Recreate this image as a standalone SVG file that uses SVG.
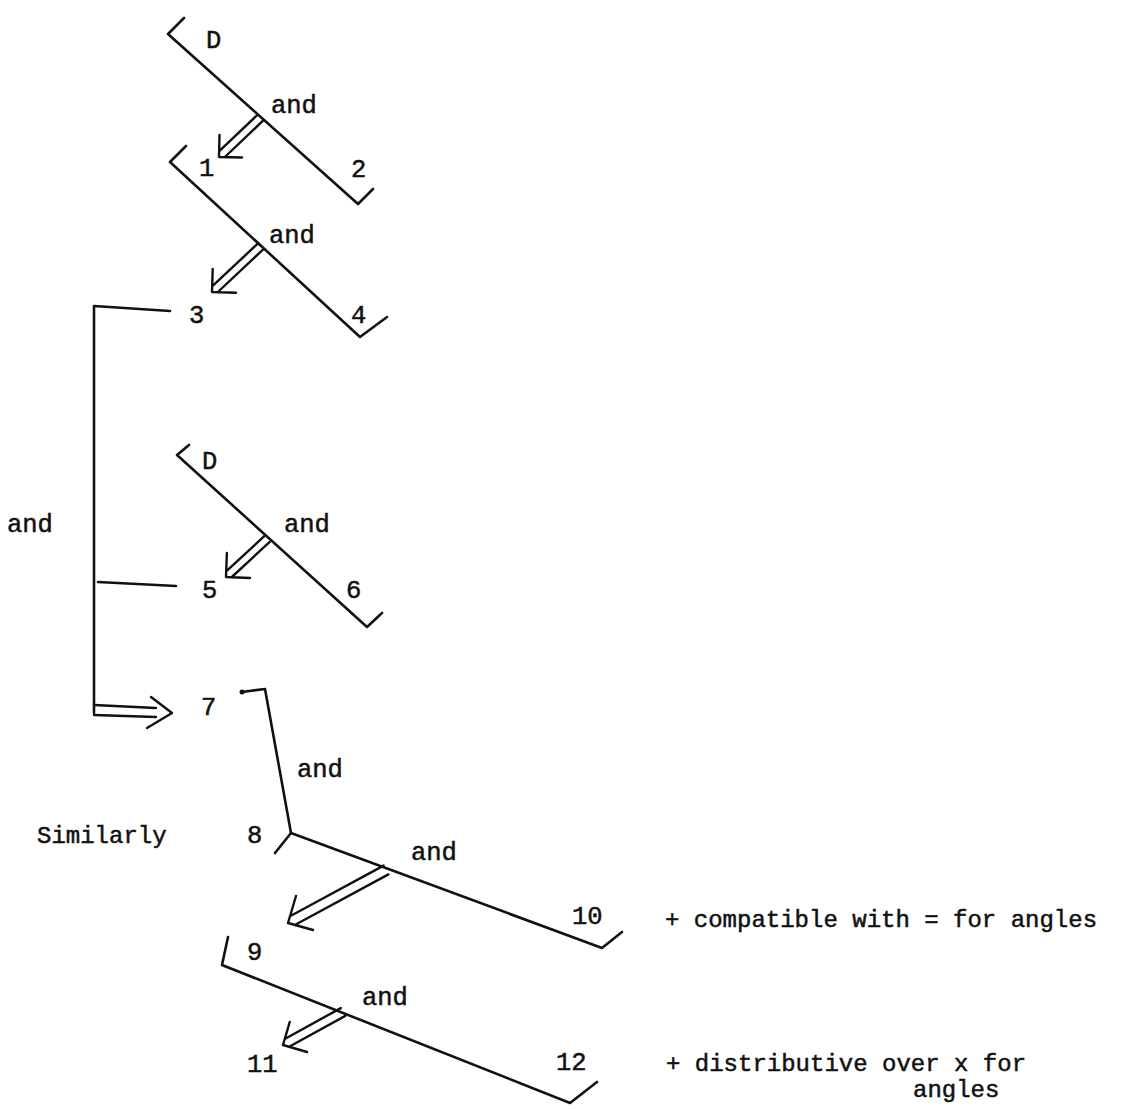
<svg xmlns="http://www.w3.org/2000/svg" width="1124" height="1109" viewBox="0 0 1124 1109">
<style>
  .bg { fill: #ffffff; }
  .ln { fill: none; stroke: #111; stroke-width: 2.6; stroke-linecap: round; stroke-linejoin: round; }
  .ar { fill: none; stroke: #111; stroke-width: 2.4; stroke-linecap: round; stroke-linejoin: round; }
  .t { font-family: "Liberation Mono", "Courier New", monospace; font-size: 24px; fill: #111; stroke: #111; stroke-width: 0.5; }
  .s { font-size: 25.5px; }
</style>
<rect class="bg" x="0" y="0" width="1124" height="1109"/>

<g id="connectors">
  <!-- diagram A: D and -> 1, 2 -->
  <path class="ln" d="M184,18 L168,34 L358,204 L373,189"/>
  <path class="ar" d="M262.8,120.9 L225.4,156.5 M257.2,115.1 L219.8,150.7 M219.5,135 L219,157 L242,157.5"/>
  <!-- diagram B: 1 and -> 3, 4 -->
  <path class="ln" d="M186,146 L170,162 L360,337 L387,317"/>
  <path class="ar" d="M263.7,248.9 L218.4,291.5 M258.3,243.1 L212.9,285.7 M212.7,269 L212,292 L236,292.7"/>
  <!-- left bracket: 3 and 5 => 7 -->
  <path class="ln" d="M170,311 L94,306 L94,713"/>
  <path class="ln" d="M98,582 L176,586"/>
  <path class="ar" d="M94,705 L156,708 M94,715 L156,717 M151,697 L172,713 L147,728"/>
  <!-- diagram C: D and -> 5, 6 -->
  <path class="ln" d="M189,445 L177,455 L367,627 L382,613"/>
  <path class="ar" d="M269.7,541.9 L232.4,576.5 M264.3,536.1 L227,570.7 M226.9,553 L226,577 L250,578"/>
  <!-- diagram D: 7 and 8, 8 and 10 -> 9 -->
  <circle cx="242" cy="692" r="2.5" fill="#111"/>
  <path class="ln" d="M242,692 L265,689 L291,833 L602,948 L622,932"/>
  <path class="ln" d="M291,833 L275,853"/>
  <path class="ar" d="M388.4,874.4 L294.8,925 M383.6,865.6 L290,916.2 M296,896 L288,923 L313,930"/>
  <!-- diagram E: 9 and 12 -> 11 -->
  <path class="ln" d="M228,937 L222,965 L570,1103 L597,1082"/>
  <path class="ar" d="M345.2,1015.9 L289.6,1046.5 M340.8,1008.1 L285.2,1038.7 M289.7,1022 L283,1045 L307,1052"/>
</g>

<g id="node-D1"><text class="t s" x="206" y="48">D</text></g>
<g id="label-and1"><text class="t s" x="271" y="113">and</text></g>
<g id="node-1"><text class="t s" x="199" y="176">1</text></g>
<g id="node-2"><text class="t s" x="351" y="177">2</text></g>
<g id="label-and2"><text class="t s" x="269" y="243">and</text></g>
<g id="node-3"><text class="t s" x="189" y="323">3</text></g>
<g id="node-4"><text class="t s" x="351" y="323">4</text></g>
<g id="label-and-left"><text class="t s" x="7" y="532">and</text></g>
<g id="node-D2"><text class="t s" x="202" y="469">D</text></g>
<g id="label-and3"><text class="t s" x="284" y="532">and</text></g>
<g id="node-5"><text class="t s" x="202" y="598">5</text></g>
<g id="node-6"><text class="t s" x="346" y="598">6</text></g>
<g id="node-7"><text class="t s" x="201" y="715">7</text></g>
<g id="label-and4"><text class="t s" x="297" y="777">and</text></g>
<g id="label-similarly"><text class="t" x="37" y="843">Similarly</text></g>
<g id="node-8"><text class="t s" x="247" y="843">8</text></g>
<g id="label-and5"><text class="t s" x="411" y="860">and</text></g>
<g id="node-10"><text class="t s" x="572" y="924">10</text><text class="t" x="665" y="927">+ compatible with = for angles</text></g>
<g id="node-9"><text class="t s" x="247" y="960">9</text></g>
<g id="label-and6"><text class="t s" x="362" y="1005">and</text></g>
<g id="node-11"><text class="t s" x="247" y="1072">11</text></g>
<g id="node-12"><text class="t s" x="556" y="1070">12</text><text class="t" x="666" y="1071">+ distributive over x for</text><text class="t" x="913" y="1097">angles</text></g>
</svg>
